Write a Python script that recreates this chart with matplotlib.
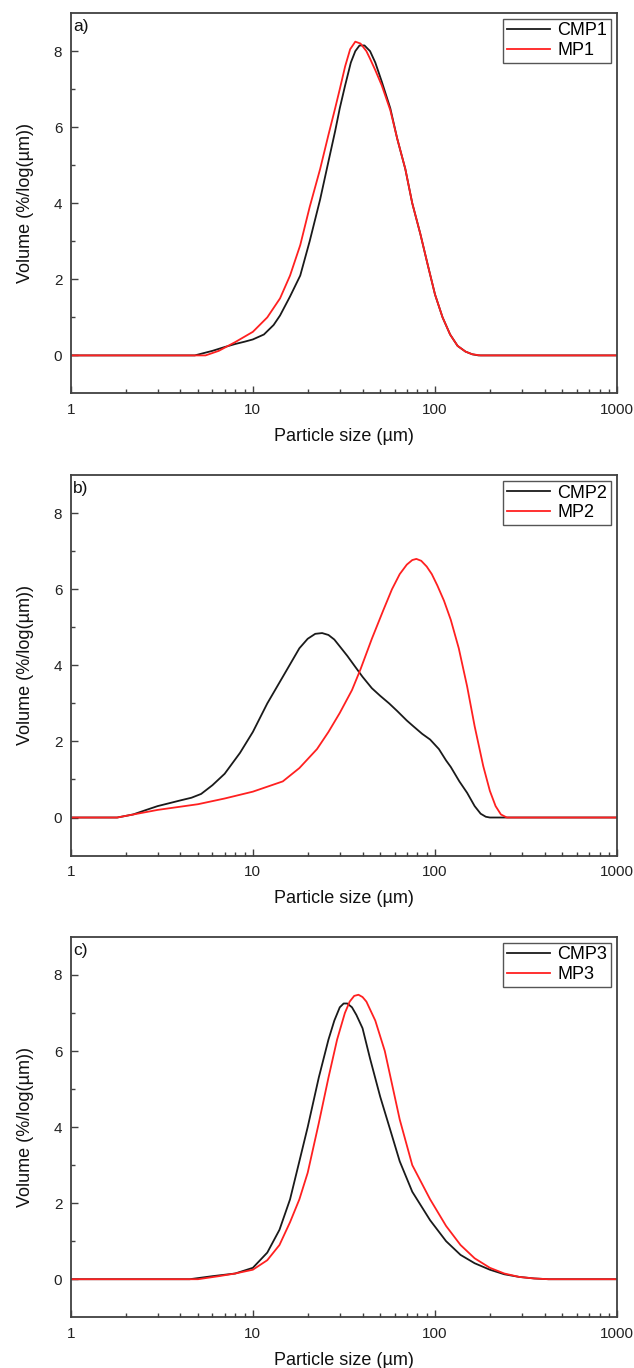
import numpy as np
import matplotlib.pyplot as plt
from matplotlib.ticker import LogLocator, NullFormatter, FixedLocator

plt.rcParams['font.family'] = ['Liberation Sans', 'DejaVu Sans']

# particle size (um) and volume (%/log(um))
cmp1_x = [1, 4.8, 6, 7, 8, 9, 10, 11.5, 13, 14.1, 16, 18.2, 20.5, 23.4, 26, 28.3, 30, 32.1, 34.5, 36.5, 38.5, 41, 44, 47, 51, 56.8, 62, 68.7, 75, 83, 91, 100, 110, 121, 133, 147, 160, 173, 1000]
cmp1_y = [0, 0, 0.12, 0.22, 0.3, 0.36, 0.42, 0.55, 0.8, 1.05, 1.55, 2.1, 3.0, 4.1, 5.1, 5.9, 6.5, 7.1, 7.7, 8.0, 8.15, 8.15, 8.0, 7.7, 7.2, 6.5, 5.7, 4.9, 4.0, 3.2, 2.4, 1.6, 1.0, 0.55, 0.25, 0.1, 0.03, 0, 0]
mp1_x = [1, 5.5, 6.5, 8, 10, 12, 14.1, 16, 18.2, 20.5, 23.4, 26, 28.3, 30, 32.1, 34.2, 36.5, 39, 42, 44, 47, 51, 56.8, 62, 68.7, 75, 83, 91, 100, 110, 121, 133, 147, 160, 178, 1000]
mp1_y = [0, 0, 0.12, 0.35, 0.62, 1.0, 1.5, 2.1, 2.9, 3.9, 4.9, 5.8, 6.5, 7.0, 7.6, 8.05, 8.25, 8.2, 8.0, 7.8, 7.5, 7.1, 6.45, 5.7, 4.9, 4.0, 3.2, 2.4, 1.6, 1.0, 0.55, 0.25, 0.1, 0.03, 0, 0]

cmp2_x = [1, 1.8, 2.2, 2.6, 3.0, 3.5, 4, 4.6, 5.2, 6, 7, 8.5, 10, 12, 14.6, 18, 20, 22, 24, 26, 28, 30, 33, 36, 40, 45, 50, 56, 62, 70, 76, 85, 94, 105, 115, 122, 136, 150, 165, 178, 190, 200, 1000]
cmp2_y = [0, 0, 0.08, 0.2, 0.3, 0.38, 0.45, 0.52, 0.62, 0.85, 1.15, 1.7, 2.25, 3.0, 3.7, 4.45, 4.7, 4.83, 4.85, 4.8, 4.68, 4.5, 4.25, 4.0, 3.7, 3.4, 3.2, 3.0, 2.8, 2.55, 2.4, 2.2, 2.05, 1.8, 1.5, 1.33, 0.95, 0.65, 0.3, 0.1, 0.02, 0, 0]
mp2_x = [1, 1.8, 3, 5, 7, 10, 14.6, 18, 22.5, 26, 30, 35, 39, 45, 52, 58, 64, 70, 75, 79, 84, 90, 96, 103, 112, 122, 135, 150, 165, 184, 200, 215, 230, 248, 1000]
mp2_y = [0, 0, 0.2, 0.35, 0.5, 0.68, 0.95, 1.3, 1.8, 2.25, 2.75, 3.35, 3.9, 4.7, 5.45, 6.0, 6.4, 6.65, 6.77, 6.8, 6.75, 6.6, 6.4, 6.1, 5.7, 5.2, 4.45, 3.45, 2.4, 1.35, 0.7, 0.3, 0.08, 0, 0]

cmp3_x = [1, 4.5, 6, 8, 10, 12, 14, 16, 18, 20, 23, 26, 28, 30, 31.5, 33, 35, 37, 40, 44, 50, 57, 64, 75, 94, 115, 138, 165, 200, 240, 290, 350, 420, 1000]
cmp3_y = [0, 0, 0.08, 0.15, 0.3, 0.7, 1.3, 2.1, 3.1, 4.0, 5.3, 6.3, 6.8, 7.15, 7.25, 7.25, 7.15, 6.95, 6.6, 5.8, 4.8, 3.9, 3.1, 2.3, 1.55, 1.0, 0.64, 0.42, 0.25, 0.13, 0.06, 0.02, 0, 0]
mp3_x = [1, 5, 6.5, 8, 10, 12, 14, 16, 18, 20, 23, 26, 29, 32, 34, 36, 38, 40, 42, 47, 53, 64, 75, 94, 115, 138, 165, 200, 240, 290, 350, 420, 1000]
mp3_y = [0, 0, 0.08, 0.15, 0.25, 0.5, 0.9, 1.5, 2.1, 2.8, 4.1, 5.3, 6.3, 7.0, 7.3, 7.45, 7.48, 7.42, 7.3, 6.8, 6.0, 4.2, 3.0, 2.1, 1.4, 0.9, 0.55, 0.3, 0.15, 0.06, 0.02, 0, 0]

panels = [
    ('a)', 'CMP1', 'MP1', cmp1_x, cmp1_y, mp1_x, mp1_y),
    ('b)', 'CMP2', 'MP2', cmp2_x, cmp2_y, mp2_x, mp2_y),
    ('c)', 'CMP3', 'MP3', cmp3_x, cmp3_y, mp3_x, mp3_y),
]

fig = plt.figure(figsize=(6.34, 13.68), dpi=100)
bottoms = [0.7124, 0.3746, 0.0371]
spine_col = '#404040'

for (tag, n1, n2, x1, y1, x2, y2), b in zip(panels, bottoms):
    ax = fig.add_axes([0.1115, b, 0.862, 0.278])
    ax.plot(x1, y1, color='#1a1a1a', lw=1.3, label=n1)
    ax.plot(x2, y2, color='#ff2020', lw=1.3, label=n2)
    ax.set_xscale('log')
    ax.set_xlim(1, 1000)
    ax.set_ylim(-1, 9)
    ax.set_xticks([1, 10, 100, 1000])
    ax.set_xticklabels(['1', '10', '100', '1000'])
    ax.xaxis.set_minor_locator(LogLocator(base=10, subs=np.arange(2, 10)))
    ax.xaxis.set_minor_formatter(NullFormatter())
    ax.set_yticks([0, 2, 4, 6, 8])
    ax.yaxis.set_minor_locator(FixedLocator([1, 3, 5, 7]))
    ax.tick_params(which='major', direction='in', length=5, width=1, colors=spine_col,
                   labelcolor='#222222', labelsize=11, pad=6)
    ax.tick_params(which='minor', direction='in', length=3, width=1, colors=spine_col)
    ax.tick_params(axis='x', which='major', pad=7)
    for s in ax.spines.values():
        s.set_color(spine_col)
        s.set_linewidth(1.3)
    ax.set_xlabel('Particle size (µm)', fontsize=13, labelpad=8, color='#111111')
    ax.set_ylabel('Volume (%/log(µm))', fontsize=13, labelpad=14, color='#111111')
    ax.text(0.004, 0.985, tag, transform=ax.transAxes, ha='left', va='top',
            fontsize=12.5, color='#111111')
    leg = ax.legend(loc='upper right', bbox_to_anchor=(0.988, 0.985), fontsize=13,
                    frameon=True, fancybox=False, edgecolor='#555555', framealpha=1,
                    handlelength=2.4, handletextpad=0.4, borderpad=0.2, labelspacing=0.15,
                    borderaxespad=0)
    leg.get_frame().set_linewidth(1.0)

fig.savefig('out.png', dpi=100)
